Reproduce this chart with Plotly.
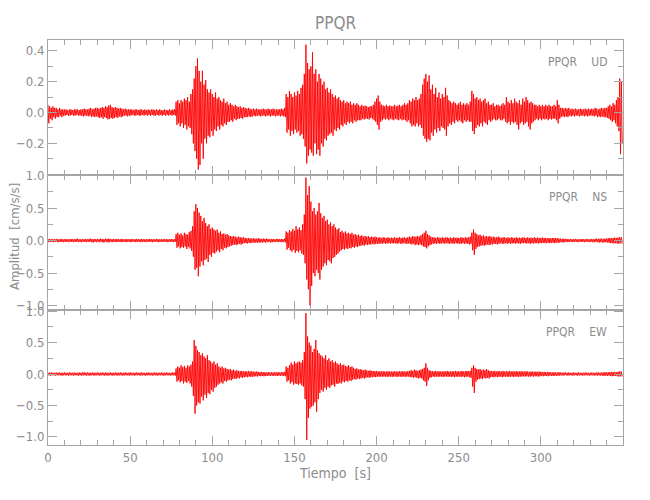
import numpy as np
import plotly.graph_objects as go
from plotly.subplots import make_subplots

# Time in seconds (one envelope sample per second, 0..349)
time_s = list(range(350))

# ---------------- UD component (cm/s/s) ----------------
ud_top = [
    0.05,0.04,0.03,0.04,0.03,0.03,0.02,0.03,0.02,0.02,
    0.02,0.02,0.015,0.02,0.02,0.015,0.02,0.02,0.02,0.015,
    0.02,0.02,0.025,0.02,0.02,0.025,0.03,0.02,0.025,0.03,
    0.03,0.025,0.03,0.035,0.03,0.04,0.035,0.045,0.05,0.035,
    0.03,0.035,0.03,0.025,0.03,0.025,0.02,0.025,0.02,0.02,
    0.02,0.02,0.015,0.02,0.02,0.015,0.02,0.02,0.015,0.02,
    0.015,0.02,0.015,0.02,0.02,0.015,0.02,0.015,0.02,0.015,
    0.015,0.02,0.015,0.015,0.02,0.015,0.02,0.02,0.07,0.08,
    0.06,0.08,0.07,0.09,0.08,0.1,0.07,0.12,0.15,0.22,
    0.3,0.35,0.27,0.2,0.27,0.18,0.21,0.15,0.13,0.15,
    0.12,0.1,0.13,0.09,0.1,0.08,0.07,0.09,0.06,0.07,
    0.05,0.06,0.05,0.04,0.05,0.04,0.035,0.04,0.03,0.035,
    0.03,0.025,0.03,0.025,0.02,0.025,0.02,0.025,0.02,0.02,
    0.02,0.025,0.02,0.02,0.025,0.02,0.02,0.025,0.02,0.02,
    0.02,0.02,0.025,0.02,0.03,0.12,0.1,0.14,0.12,0.1,
    0.13,0.11,0.14,0.12,0.16,0.18,0.25,0.44,0.32,0.28,
    0.3,0.39,0.25,0.28,0.2,0.25,0.22,0.18,0.2,0.15,
    0.16,0.13,0.15,0.12,0.1,0.11,0.09,0.1,0.08,0.07,
    0.08,0.06,0.07,0.06,0.07,0.05,0.06,0.05,0.06,0.05,
    0.04,0.05,0.04,0.045,0.04,0.035,0.04,0.04,0.05,0.07,
    0.09,0.11,0.07,0.05,0.045,0.04,0.05,0.04,0.045,0.04,
    0.04,0.05,0.04,0.045,0.05,0.04,0.05,0.06,0.05,0.06,
    0.08,0.07,0.09,0.08,0.1,0.08,0.09,0.12,0.18,0.22,
    0.25,0.2,0.24,0.15,0.18,0.12,0.16,0.1,0.13,0.09,
    0.12,0.1,0.16,0.11,0.08,0.07,0.06,0.07,0.06,0.05,
    0.06,0.07,0.05,0.06,0.05,0.06,0.05,0.07,0.14,0.12,
    0.09,0.1,0.08,0.09,0.07,0.08,0.09,0.06,0.07,0.05,
    0.05,0.06,0.04,0.05,0.05,0.04,0.05,0.06,0.05,0.1,
    0.07,0.06,0.08,0.06,0.09,0.07,0.06,0.08,0.05,0.09,
    0.07,0.1,0.08,0.06,0.07,0.06,0.05,0.05,0.04,0.05,
    0.04,0.05,0.04,0.05,0.04,0.05,0.04,0.04,0.05,0.04,
    0.08,0.05,0.03,0.03,0.025,0.03,0.025,0.03,0.02,0.025,
    0.02,0.025,0.02,0.02,0.025,0.02,0.02,0.025,0.02,0.025,
    0.02,0.025,0.02,0.03,0.025,0.02,0.025,0.03,0.025,0.03,
    0.03,0.04,0.05,0.04,0.06,0.05,0.08,0.1,0.22,0.2,
]
ud_bot = [
    -0.07,-0.04,-0.05,-0.03,-0.04,-0.03,-0.03,-0.02,-0.03,-0.02,
    -0.02,-0.015,-0.02,-0.02,-0.015,-0.02,-0.02,-0.015,-0.02,-0.02,
    -0.02,-0.025,-0.02,-0.02,-0.025,-0.02,-0.03,-0.025,-0.03,-0.025,
    -0.03,-0.035,-0.03,-0.04,-0.03,-0.035,-0.045,-0.04,-0.035,-0.04,
    -0.035,-0.03,-0.035,-0.025,-0.03,-0.025,-0.02,-0.02,-0.025,-0.02,
    -0.02,-0.015,-0.02,-0.02,-0.015,-0.02,-0.02,-0.015,-0.02,-0.015,
    -0.02,-0.015,-0.02,-0.015,-0.02,-0.02,-0.015,-0.02,-0.015,-0.02,
    -0.015,-0.02,-0.015,-0.02,-0.015,-0.02,-0.015,-0.02,-0.08,-0.07,
    -0.09,-0.07,-0.1,-0.08,-0.11,-0.09,-0.1,-0.14,-0.2,-0.25,
    -0.3,-0.37,-0.34,-0.2,-0.3,-0.17,-0.2,-0.15,-0.16,-0.12,
    -0.15,-0.11,-0.12,-0.09,-0.11,-0.08,-0.09,-0.07,-0.08,-0.06,
    -0.06,-0.05,-0.06,-0.04,-0.05,-0.04,-0.04,-0.035,-0.04,-0.03,
    -0.03,-0.03,-0.025,-0.03,-0.025,-0.02,-0.025,-0.02,-0.02,-0.025,
    -0.02,-0.02,-0.025,-0.02,-0.02,-0.025,-0.02,-0.02,-0.025,-0.02,
    -0.02,-0.025,-0.02,-0.025,-0.03,-0.13,-0.11,-0.15,-0.12,-0.14,
    -0.11,-0.13,-0.12,-0.15,-0.14,-0.17,-0.22,-0.33,-0.28,-0.24,
    -0.26,-0.28,-0.2,-0.27,-0.24,-0.28,-0.2,-0.22,-0.17,-0.18,
    -0.15,-0.14,-0.13,-0.15,-0.11,-0.12,-0.1,-0.11,-0.08,-0.09,
    -0.07,-0.08,-0.06,-0.07,-0.06,-0.07,-0.05,-0.06,-0.05,-0.05,
    -0.05,-0.04,-0.045,-0.04,-0.04,-0.045,-0.035,-0.04,-0.05,-0.06,
    -0.08,-0.11,-0.06,-0.05,-0.04,-0.045,-0.04,-0.05,-0.04,-0.045,
    -0.05,-0.04,-0.045,-0.05,-0.04,-0.05,-0.045,-0.05,-0.06,-0.05,
    -0.07,-0.09,-0.08,-0.09,-0.07,-0.09,-0.08,-0.1,-0.15,-0.17,
    -0.19,-0.17,-0.18,-0.13,-0.15,-0.11,-0.13,-0.1,-0.12,-0.09,
    -0.1,-0.11,-0.15,-0.09,-0.07,-0.08,-0.06,-0.07,-0.05,-0.06,
    -0.05,-0.06,-0.07,-0.05,-0.06,-0.05,-0.06,-0.06,-0.12,-0.14,
    -0.1,-0.08,-0.09,-0.07,-0.09,-0.06,-0.07,-0.08,-0.05,-0.06,
    -0.05,-0.04,-0.05,-0.05,-0.04,-0.05,-0.05,-0.04,-0.06,-0.07,
    -0.06,-0.08,-0.06,-0.07,-0.06,-0.08,-0.11,-0.07,-0.06,-0.08,
    -0.07,-0.06,-0.09,-0.11,-0.07,-0.06,-0.05,-0.04,-0.05,-0.04,
    -0.05,-0.04,-0.045,-0.04,-0.05,-0.04,-0.045,-0.04,-0.04,-0.05,
    -0.07,-0.04,-0.03,-0.025,-0.03,-0.025,-0.03,-0.02,-0.025,-0.02,
    -0.025,-0.02,-0.02,-0.025,-0.02,-0.02,-0.025,-0.02,-0.025,-0.02,
    -0.02,-0.02,-0.025,-0.02,-0.03,-0.025,-0.03,-0.025,-0.03,-0.03,
    -0.035,-0.04,-0.05,-0.06,-0.05,-0.07,-0.09,-0.12,-0.27,-0.2,
]

# ---------------- NS component ----------------
ns_top = [
    0.03,0.02,0.025,0.02,0.02,0.025,0.02,0.02,0.025,0.02,
    0.02,0.025,0.02,0.02,0.025,0.02,0.02,0.025,0.03,0.02,
    0.02,0.025,0.02,0.025,0.02,0.025,0.03,0.02,0.025,0.02,
    0.025,0.02,0.03,0.025,0.02,0.03,0.025,0.03,0.025,0.02,
    0.025,0.02,0.025,0.02,0.02,0.025,0.02,0.02,0.025,0.02,
    0.02,0.025,0.02,0.02,0.025,0.02,0.02,0.025,0.02,0.02,
    0.02,0.02,0.025,0.02,0.02,0.02,0.025,0.02,0.02,0.02,
    0.02,0.025,0.02,0.02,0.02,0.025,0.02,0.02,0.1,0.12,
    0.09,0.11,0.08,0.12,0.1,0.09,0.13,0.15,0.22,0.45,
    0.56,0.5,0.43,0.38,0.3,0.35,0.27,0.22,0.25,0.18,
    0.2,0.17,0.15,0.17,0.12,0.14,0.1,0.11,0.09,0.1,
    0.08,0.07,0.06,0.07,0.06,0.05,0.06,0.05,0.045,0.05,
    0.04,0.035,0.04,0.035,0.03,0.035,0.03,0.03,0.035,0.03,
    0.025,0.03,0.025,0.03,0.025,0.02,0.025,0.025,0.02,0.025,
    0.025,0.02,0.025,0.02,0.03,0.14,0.12,0.16,0.14,0.18,
    0.15,0.22,0.17,0.2,0.16,0.25,0.4,0.97,0.7,0.84,
    0.6,0.45,0.5,0.4,0.45,0.58,0.42,0.35,0.38,0.3,
    0.32,0.25,0.28,0.22,0.25,0.2,0.17,0.19,0.13,0.15,
    0.12,0.14,0.11,0.12,0.1,0.12,0.09,0.1,0.08,0.09,
    0.07,0.08,0.06,0.07,0.06,0.07,0.05,0.06,0.05,0.06,
    0.05,0.045,0.05,0.04,0.05,0.045,0.04,0.05,0.04,0.045,
    0.04,0.05,0.04,0.045,0.05,0.04,0.045,0.05,0.04,0.05,
    0.06,0.05,0.07,0.06,0.06,0.07,0.06,0.08,0.1,0.12,
    0.15,0.1,0.08,0.06,0.05,0.05,0.04,0.05,0.045,0.04,
    0.05,0.04,0.045,0.05,0.04,0.045,0.04,0.05,0.04,0.045,
    0.04,0.045,0.05,0.04,0.05,0.045,0.05,0.06,0.12,0.17,
    0.12,0.1,0.08,0.09,0.07,0.08,0.06,0.07,0.06,0.07,
    0.05,0.06,0.05,0.05,0.06,0.05,0.04,0.05,0.05,0.04,
    0.05,0.04,0.05,0.045,0.04,0.05,0.04,0.045,0.04,0.05,
    0.045,0.04,0.05,0.04,0.045,0.04,0.05,0.04,0.045,0.04,
    0.04,0.045,0.04,0.04,0.035,0.04,0.035,0.04,0.04,0.035,
    0.04,0.03,0.03,0.025,0.03,0.025,0.025,0.02,0.025,0.02,
    0.02,0.025,0.02,0.02,0.02,0.025,0.02,0.02,0.025,0.02,
    0.02,0.025,0.02,0.025,0.03,0.025,0.03,0.03,0.025,0.03,
    0.03,0.035,0.04,0.035,0.04,0.045,0.04,0.045,0.05,0.05,
]
ns_bot = [
    -0.025,-0.02,-0.02,-0.025,-0.02,-0.02,-0.025,-0.02,-0.02,-0.025,
    -0.02,-0.02,-0.025,-0.02,-0.02,-0.025,-0.02,-0.02,-0.025,-0.02,
    -0.025,-0.02,-0.02,-0.025,-0.02,-0.02,-0.025,-0.03,-0.02,-0.025,
    -0.02,-0.025,-0.02,-0.03,-0.025,-0.02,-0.03,-0.025,-0.02,-0.025,
    -0.02,-0.025,-0.02,-0.02,-0.025,-0.02,-0.02,-0.025,-0.02,-0.02,
    -0.025,-0.02,-0.02,-0.025,-0.02,-0.02,-0.025,-0.02,-0.02,-0.025,
    -0.02,-0.02,-0.02,-0.025,-0.02,-0.02,-0.02,-0.025,-0.02,-0.02,
    -0.02,-0.02,-0.025,-0.02,-0.02,-0.02,-0.025,-0.02,-0.11,-0.09,
    -0.12,-0.1,-0.11,-0.09,-0.13,-0.1,-0.12,-0.16,-0.25,-0.45,
    -0.42,-0.55,-0.4,-0.32,-0.38,-0.3,-0.28,-0.33,-0.22,-0.25,
    -0.19,-0.2,-0.17,-0.15,-0.18,-0.13,-0.15,-0.11,-0.12,-0.1,
    -0.09,-0.08,-0.07,-0.06,-0.07,-0.06,-0.05,-0.06,-0.05,-0.04,
    -0.04,-0.045,-0.035,-0.04,-0.03,-0.035,-0.03,-0.035,-0.03,-0.03,
    -0.03,-0.025,-0.03,-0.025,-0.02,-0.03,-0.025,-0.02,-0.025,-0.02,
    -0.025,-0.02,-0.025,-0.02,-0.03,-0.14,-0.11,-0.15,-0.17,-0.14,
    -0.19,-0.16,-0.18,-0.15,-0.2,-0.22,-0.35,-0.6,-0.75,-1.0,
    -0.7,-0.5,-0.55,-0.45,-0.5,-0.6,-0.45,-0.4,-0.35,-0.38,
    -0.3,-0.32,-0.35,-0.27,-0.25,-0.22,-0.2,-0.17,-0.15,-0.13,
    -0.14,-0.12,-0.13,-0.11,-0.12,-0.1,-0.11,-0.09,-0.1,-0.08,
    -0.08,-0.07,-0.08,-0.06,-0.07,-0.06,-0.06,-0.05,-0.06,-0.05,
    -0.05,-0.05,-0.045,-0.05,-0.04,-0.05,-0.045,-0.04,-0.05,-0.04,
    -0.045,-0.04,-0.05,-0.04,-0.045,-0.05,-0.04,-0.045,-0.05,-0.045,
    -0.05,-0.06,-0.05,-0.07,-0.06,-0.07,-0.06,-0.07,-0.09,-0.1,
    -0.12,-0.09,-0.07,-0.06,-0.05,-0.045,-0.05,-0.04,-0.05,-0.045,
    -0.04,-0.05,-0.04,-0.045,-0.05,-0.04,-0.05,-0.045,-0.04,-0.05,
    -0.045,-0.05,-0.04,-0.05,-0.045,-0.05,-0.06,-0.05,-0.15,-0.22,
    -0.13,-0.1,-0.09,-0.08,-0.07,-0.08,-0.07,-0.06,-0.07,-0.06,
    -0.06,-0.05,-0.05,-0.06,-0.05,-0.04,-0.05,-0.05,-0.04,-0.05,
    -0.04,-0.05,-0.045,-0.04,-0.05,-0.04,-0.045,-0.05,-0.04,-0.04,
    -0.04,-0.045,-0.04,-0.05,-0.04,-0.045,-0.04,-0.04,-0.045,-0.04,
    -0.04,-0.035,-0.04,-0.04,-0.035,-0.04,-0.035,-0.035,-0.04,-0.03,
    -0.035,-0.03,-0.025,-0.03,-0.025,-0.02,-0.025,-0.02,-0.02,-0.025,
    -0.02,-0.02,-0.025,-0.02,-0.02,-0.02,-0.025,-0.02,-0.02,-0.025,
    -0.02,-0.025,-0.025,-0.02,-0.025,-0.03,-0.025,-0.03,-0.03,-0.025,
    -0.03,-0.035,-0.04,-0.04,-0.045,-0.04,-0.045,-0.05,-0.04,-0.05,
]

# ---------------- EW component ----------------
ew_top = [
    0.025,0.02,0.025,0.02,0.02,0.025,0.02,0.025,0.02,0.02,
    0.025,0.02,0.02,0.025,0.02,0.02,0.025,0.02,0.02,0.025,
    0.02,0.025,0.03,0.02,0.025,0.02,0.02,0.025,0.02,0.02,
    0.025,0.02,0.02,0.025,0.02,0.025,0.02,0.02,0.025,0.02,
    0.02,0.025,0.02,0.02,0.025,0.02,0.02,0.025,0.02,0.02,
    0.025,0.02,0.02,0.02,0.025,0.02,0.02,0.025,0.02,0.02,
    0.02,0.025,0.02,0.02,0.02,0.025,0.02,0.02,0.02,0.025,
    0.02,0.02,0.025,0.02,0.02,0.02,0.025,0.02,0.09,0.12,
    0.1,0.14,0.11,0.13,0.1,0.14,0.12,0.15,0.2,0.54,
    0.45,0.38,0.35,0.3,0.33,0.28,0.25,0.3,0.22,0.2,
    0.17,0.2,0.15,0.17,0.12,0.1,0.12,0.09,0.1,0.08,
    0.07,0.08,0.06,0.07,0.05,0.06,0.05,0.045,0.05,0.04,
    0.045,0.04,0.05,0.04,0.045,0.04,0.035,0.04,0.035,0.03,
    0.035,0.03,0.03,0.025,0.03,0.025,0.03,0.025,0.03,0.025,
    0.03,0.025,0.03,0.03,0.035,0.12,0.1,0.14,0.18,0.15,
    0.2,0.17,0.19,0.2,0.18,0.22,0.35,0.97,0.6,0.5,
    0.45,0.35,0.4,0.54,0.38,0.33,0.3,0.28,0.25,0.3,
    0.22,0.25,0.2,0.22,0.18,0.2,0.17,0.15,0.17,0.14,
    0.15,0.13,0.12,0.14,0.11,0.12,0.1,0.08,0.09,0.07,
    0.08,0.07,0.06,0.07,0.06,0.05,0.06,0.05,0.05,0.045,
    0.05,0.04,0.045,0.04,0.045,0.04,0.04,0.045,0.04,0.04,
    0.04,0.045,0.04,0.04,0.045,0.04,0.045,0.04,0.04,0.045,
    0.05,0.06,0.05,0.07,0.06,0.05,0.06,0.07,0.08,0.1,
    0.17,0.1,0.06,0.05,0.045,0.04,0.05,0.04,0.045,0.04,
    0.04,0.045,0.04,0.05,0.04,0.04,0.045,0.04,0.05,0.04,
    0.045,0.04,0.05,0.04,0.045,0.05,0.045,0.05,0.1,0.14,
    0.1,0.08,0.07,0.08,0.06,0.07,0.06,0.08,0.06,0.05,
    0.05,0.045,0.05,0.04,0.05,0.045,0.04,0.05,0.04,0.045,
    0.04,0.05,0.04,0.045,0.04,0.045,0.04,0.04,0.045,0.04,
    0.04,0.045,0.04,0.035,0.04,0.04,0.035,0.04,0.035,0.04,
    0.035,0.03,0.035,0.03,0.035,0.03,0.03,0.025,0.03,0.025,
    0.025,0.03,0.025,0.02,0.025,0.025,0.02,0.025,0.02,0.02,
    0.025,0.02,0.02,0.025,0.02,0.02,0.02,0.025,0.02,0.02,
    0.02,0.025,0.02,0.02,0.025,0.025,0.02,0.025,0.025,0.03,
    0.025,0.03,0.03,0.035,0.03,0.035,0.03,0.035,0.04,0.04,
]
ew_bot = [
    -0.02,-0.025,-0.02,-0.02,-0.025,-0.02,-0.02,-0.02,-0.025,-0.02,
    -0.02,-0.02,-0.025,-0.02,-0.02,-0.025,-0.02,-0.02,-0.025,-0.02,
    -0.025,-0.02,-0.02,-0.025,-0.02,-0.025,-0.02,-0.02,-0.025,-0.02,
    -0.02,-0.025,-0.02,-0.02,-0.025,-0.02,-0.025,-0.02,-0.02,-0.025,
    -0.02,-0.02,-0.025,-0.02,-0.02,-0.025,-0.02,-0.02,-0.02,-0.025,
    -0.02,-0.02,-0.025,-0.02,-0.02,-0.02,-0.025,-0.02,-0.02,-0.025,
    -0.02,-0.02,-0.02,-0.025,-0.02,-0.02,-0.025,-0.02,-0.02,-0.02,
    -0.025,-0.02,-0.02,-0.02,-0.025,-0.02,-0.02,-0.025,-0.12,-0.1,
    -0.13,-0.11,-0.15,-0.12,-0.14,-0.11,-0.15,-0.2,-0.35,-0.63,
    -0.5,-0.45,-0.47,-0.36,-0.42,-0.33,-0.38,-0.3,-0.32,-0.25,
    -0.28,-0.22,-0.2,-0.17,-0.15,-0.13,-0.15,-0.11,-0.12,-0.1,
    -0.09,-0.1,-0.08,-0.07,-0.08,-0.06,-0.07,-0.05,-0.06,-0.05,
    -0.045,-0.05,-0.04,-0.045,-0.04,-0.04,-0.035,-0.04,-0.03,-0.035,
    -0.03,-0.035,-0.03,-0.03,-0.025,-0.03,-0.025,-0.03,-0.025,-0.03,
    -0.025,-0.03,-0.025,-0.03,-0.035,-0.12,-0.1,-0.15,-0.13,-0.17,
    -0.15,-0.16,-0.17,-0.15,-0.18,-0.2,-0.4,-1.05,-0.7,-0.55,
    -0.52,-0.5,-0.45,-0.6,-0.4,-0.3,-0.25,-0.28,-0.22,-0.25,
    -0.2,-0.22,-0.18,-0.17,-0.2,-0.15,-0.16,-0.14,-0.15,-0.12,
    -0.13,-0.11,-0.12,-0.1,-0.11,-0.09,-0.08,-0.09,-0.07,-0.08,
    -0.07,-0.06,-0.07,-0.06,-0.05,-0.06,-0.05,-0.05,-0.045,-0.05,
    -0.04,-0.045,-0.04,-0.045,-0.04,-0.04,-0.045,-0.04,-0.04,-0.045,
    -0.04,-0.04,-0.045,-0.04,-0.04,-0.045,-0.04,-0.045,-0.04,-0.04,
    -0.05,-0.05,-0.06,-0.05,-0.06,-0.07,-0.06,-0.07,-0.1,-0.12,
    -0.19,-0.1,-0.06,-0.05,-0.04,-0.045,-0.04,-0.045,-0.04,-0.04,
    -0.045,-0.04,-0.04,-0.045,-0.04,-0.045,-0.04,-0.05,-0.04,-0.045,
    -0.04,-0.045,-0.04,-0.05,-0.045,-0.04,-0.05,-0.06,-0.2,-0.3,
    -0.12,-0.09,-0.08,-0.07,-0.08,-0.06,-0.07,-0.06,-0.07,-0.05,
    -0.045,-0.05,-0.04,-0.05,-0.045,-0.04,-0.05,-0.04,-0.045,-0.04,
    -0.045,-0.04,-0.04,-0.045,-0.04,-0.04,-0.045,-0.04,-0.04,-0.035,
    -0.04,-0.035,-0.04,-0.04,-0.035,-0.04,-0.035,-0.035,-0.04,-0.035,
    -0.03,-0.035,-0.03,-0.03,-0.035,-0.025,-0.03,-0.03,-0.025,-0.03,
    -0.025,-0.025,-0.02,-0.025,-0.02,-0.02,-0.025,-0.02,-0.02,-0.025,
    -0.02,-0.02,-0.025,-0.02,-0.02,-0.025,-0.02,-0.02,-0.02,-0.025,
    -0.02,-0.02,-0.025,-0.02,-0.025,-0.02,-0.025,-0.025,-0.03,-0.025,
    -0.03,-0.025,-0.03,-0.035,-0.03,-0.03,-0.035,-0.04,-0.035,-0.04,
]

channels = ["UD", "NS", "EW"]
station = "PPQR"
y_ranges = [[-0.405, 0.47], [-1.07, 1.01], [-1.13, 1.02]]
y_ticks = [[-0.2, 0.0, 0.2, 0.4], [-1.0, -0.5, 0.0, 0.5, 1.0], [-1.0, -0.5, 0.0, 0.5, 1.0]]
y_minor = [0.1, 0.25, 0.25]
x_ticks = [0, 50, 100, 150, 200, 250, 300]

FONT = "DejaVu Sans Condensed, Liberation Sans Narrow, Liberation Sans, sans-serif"
GRAY = "#8c8c8c"
AX = "#a6a6a6"

# The page body has an 8 px margin, so the figure is 8 px smaller than the
# window and all pixel positions below are relative to the figure.
OFF = 8
W, H = 650 - OFF, 500 - OFF
L, R, T, B = 48 - OFF, 27, 40 - OFF, 55
PW, PH = W - L - R, H - T - B


def zigzag(top, bot):
    t = np.array(time_s, dtype=float)
    xs = np.empty(2 * len(t))
    ys = np.empty(2 * len(t))
    xs[0::2] = t
    xs[1::2] = t + 0.5
    ys[0::2] = np.array(top)
    ys[1::2] = np.array(bot)
    return xs, ys


fig = make_subplots(rows=3, cols=1, shared_xaxes=True, vertical_spacing=0)

for i, (top, bot) in enumerate([(ud_top, ud_bot), (ns_top, ns_bot), (ew_top, ew_bot)]):
    xs, ys = zigzag(top, bot)
    fig.add_trace(
        go.Scatter(x=xs, y=ys, mode="lines",
                   line=dict(color="#ff0000", width=0.9),
                   showlegend=False, hoverinfo="skip"),
        row=i + 1, col=1,
    )
    fig.update_yaxes(
        range=y_ranges[i], tickvals=y_ticks[i], tickformat=".1f",
        showline=True, linecolor=AX, linewidth=1, mirror="allticks",
        ticks="inside", ticklen=9, tickcolor=AX, tickwidth=1,
        minor=dict(tickmode="linear", tick0=0, dtick=y_minor[i],
                   ticks="inside", ticklen=5, tickcolor=AX),
        showgrid=False, zeroline=False, automargin=False,
        tickfont=dict(size=13, color=GRAY, family=FONT),
        row=i + 1, col=1,
    )
    fig.update_xaxes(
        range=[0, 350], tickvals=x_ticks,
        showline=True, linecolor=AX, linewidth=1, mirror="allticks",
        ticks="inside", ticklen=9, tickcolor=AX, tickwidth=1,
        minor=dict(tickmode="linear", tick0=0, dtick=10,
                   ticks="inside", ticklen=5, tickcolor=AX),
        showgrid=False, zeroline=False, automargin=False,
        tickfont=dict(size=13, color=GRAY, family=FONT),
        row=i + 1, col=1,
    )
    fig.add_annotation(
        x=0.975, y=0.84,
        xref="x domain" if i == 0 else "x%d domain" % (i + 1),
        yref="y domain" if i == 0 else "y%d domain" % (i + 1),
        text=station + "\u2003 " + channels[i],
        showarrow=False, xanchor="right", yanchor="middle",
        font=dict(size=12, color=GRAY, family=FONT),
    )

fig.update_xaxes(title_text="Tiempo  [s]",
                 title_font=dict(size=14, color=GRAY, family=FONT),
                 title_standoff=4, row=3, col=1)

# Y-axis title shared by all panels (window pixel position -> paper fraction)
fig.add_annotation(
    x=-(L - (15 - OFF)) / PW, y=(H - B - (237 - OFF)) / PH,
    xref="paper", yref="paper",
    text="Amplitud  [cm/s/s]", showarrow=False, textangle=-90,
    xanchor="center", yanchor="middle",
    font=dict(size=13, color=GRAY, family=FONT),
)

fig.update_layout(
    width=W, height=H,
    margin=dict(l=L, r=R, t=T, b=B, autoexpand=False),
    paper_bgcolor="white", plot_bgcolor="white",
    title=dict(text=station, x=(L + PW / 2) / W, xanchor="center",
               y=1 - (23 - OFF) / H, yanchor="middle", automargin=False,
               font=dict(size=17, color=GRAY, family=FONT)),
    font=dict(family=FONT, color=GRAY),
)

fig.write_html("out.html")
